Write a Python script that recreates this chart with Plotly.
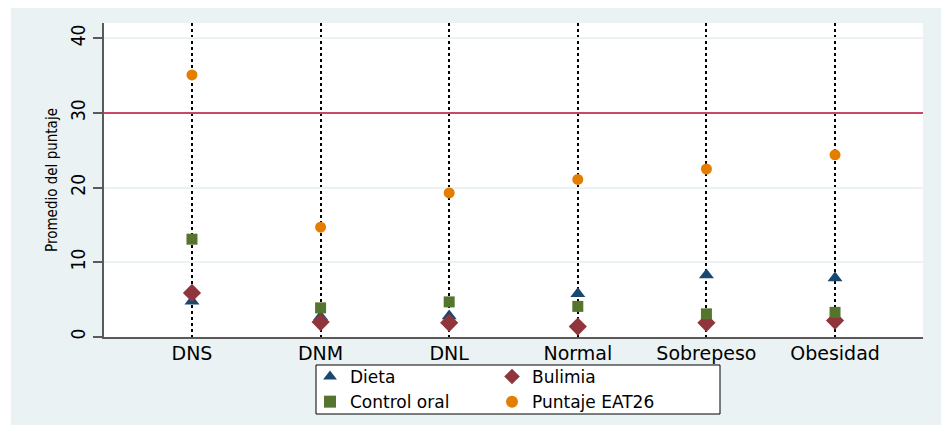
import plotly.graph_objects as go

categories = ["DNS", "DNM", "DNL", "Normal", "Sobrepeso", "Obesidad"]
dieta = [4.8, 2.7, 2.8, 5.8, 8.3, 7.9]
bulimia = [5.9, 2.0, 1.9, 1.4, 1.9, 2.2]
control_oral = [13.1, 3.9, 4.7, 4.1, 3.1, 3.3]
puntaje_eat26 = [35.1, 14.7, 19.3, 21.1, 22.5, 24.4]
y_ticks = [0, 10, 20, 30, 40]
cutoff = 30

xpos = list(range(1, len(categories) + 1))

# page body has an 8px margin; figure placed at (8, 8)
W, H = 941, 417
L, R, T, B = 96, 26, 15, 88
pw, ph = W - L - R, H - T - B

def px_x(x):  # figure px -> paper x
    return (x - L) / pw

def px_y(y):  # figure px -> paper y
    return 1 - (y - T) / ph

BG = "#EAF2F3"
NARROW = "Liberation Sans Narrow, DejaVu Sans Condensed, DejaVu Sans"
fig = go.Figure()

series = [
    ("Dieta", dieta, "triangle-up", "#1A476F", 13, "g1"),
    ("Bulimia", bulimia, "diamond", "#90353B", 14, "g2"),
    ("Control oral", control_oral, "square", "#55752F", 11, "g1"),
    ("Puntaje EAT26", puntaje_eat26, "circle", "#E37E00", 11, "g2"),
]
for name, vals, sym, col, sz, grp in series:
    fig.add_trace(go.Scatter(
        x=xpos, y=vals, mode="markers", name=name, legendgroup=grp,
        marker=dict(symbol=sym, color=col, size=sz, line=dict(width=0)),
    ))

# reference line at 30
fig.add_hline(y=cutoff, line=dict(color="#C9486A", width=2), layer="above")

# thin white strip on the left
fig.add_shape(type="rect", xref="paper", yref="paper",
              x0=px_x(-2), x1=px_x(3), y0=px_y(H + 2), y1=px_y(-2),
              fillcolor="white", line=dict(width=0), layer="below")
# legend box
fig.add_shape(type="rect", xref="paper", yref="paper",
              x0=px_x(308), x1=px_x(712), y0=px_y(406), y1=px_y(357),
              fillcolor="white", line=dict(width=1, color="black"), layer="above")

fig.update_layout(
    width=W, height=H,
    margin=dict(l=L, r=R, t=T, b=B, autoexpand=False),
    paper_bgcolor=BG, plot_bgcolor="white",
    font=dict(family="DejaVu Sans", color="black"),
    showlegend=True,
    legend=dict(
        orientation="h", traceorder="grouped",
        x=px_x(302), xanchor="left",
        y=px_y(351), yanchor="top",
        bgcolor="rgba(0,0,0,0)", borderwidth=0,
        font=dict(family="DejaVu Sans", size=17, color="black"),
        entrywidth=137, tracegroupgap=0, itemsizing="constant",
    ),
    xaxis=dict(
        range=[0.316, 6.684], tickmode="array", tickvals=xpos, ticktext=categories,
        showgrid=True, gridcolor="black", gridwidth=2, griddash="dot",
        showline=True, linecolor="#5A5A5A", linewidth=2,
        ticks="", ticklabelstandoff=-2, zeroline=False,
        tickfont=dict(family="DejaVu Sans", size=19, color="black"),
        fixedrange=True,
    ),
    yaxis=dict(
        range=[0, 42.05], tickmode="array", tickvals=y_ticks,
        showgrid=True, gridcolor=BG, gridwidth=1.5,
        showline=True, linecolor="#5A5A5A", linewidth=2,
        ticks="outside", ticklen=9, tickcolor="#5A5A5A", tickwidth=1.5,
        tickangle=-90, ticklabelstandoff=0, zeroline=False,
        tickfont=dict(family=NARROW, size=19, color="black"),
        title=dict(text="Promedio del puntaje", standoff=6,
                   font=dict(family=NARROW, size=15, color="black")),
        fixedrange=True,
    ),
)

fig.write_html("out.html")
